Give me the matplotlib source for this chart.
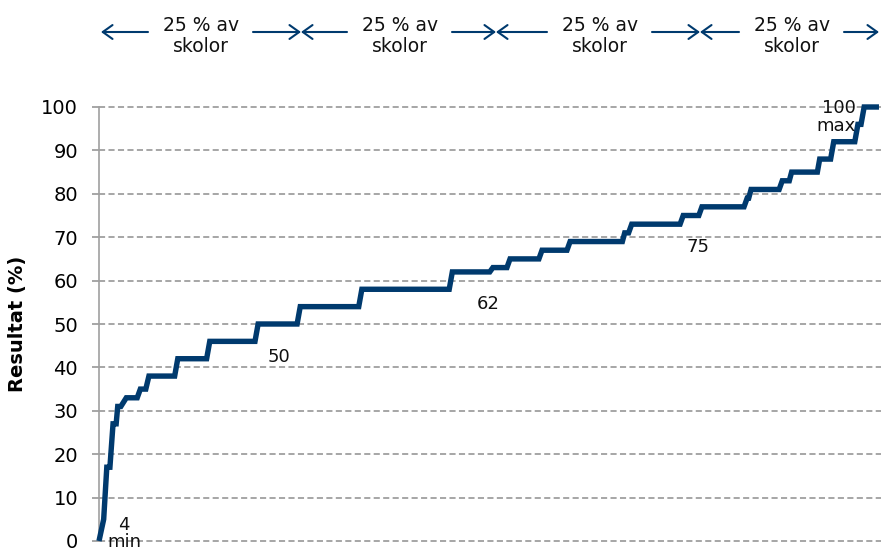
import matplotlib
matplotlib.use("Agg")
import matplotlib.pyplot as plt

# ---- data: share of schools (%) vs result (%) ----
school_pct = [0.0, 0.6, 1.0, 1.4, 1.8, 2.2, 2.4, 2.8, 3.5, 4.9, 5.3, 6.0, 6.4, 9.7,
              10.1, 13.8, 14.2, 20.0, 20.4, 25.4, 25.8, 33.3, 33.7, 44.9, 45.3, 50.1,
              50.5, 52.3, 52.7, 56.4, 56.8, 60.0, 60.4, 67.1, 67.4, 67.9, 68.3, 74.5,
              74.9, 76.9, 77.3, 82.7, 83.1, 83.3, 83.6, 87.2, 87.6, 88.5, 88.8, 92.1,
              92.4, 93.8, 94.2, 96.9, 97.3, 97.7, 98.1, 100.0]
result = [0, 5, 17, 17, 27, 27, 31, 31, 33, 33, 35, 35, 38, 38,
          42, 42, 46, 46, 50, 50, 54, 54, 58, 58, 62, 62,
          63, 63, 65, 65, 67, 67, 69, 69, 71, 71, 73, 73,
          75, 75, 77, 77, 79, 79, 81, 81, 83, 83, 85, 85,
          88, 88, 92, 92, 96, 96, 100, 100]

yticks = [0, 10, 20, 30, 40, 50, 60, 70, 80, 90, 100]
ylabel = "Resultat (%)"
segment_label = "25 % av\nskolor"
annotations = [("4\nmin", 3.2, 1.8, "center"),
               ("50", 23.1, 42.4, "center"),
               ("62", 49.9, 54.6, "center"),
               ("75", 76.8, 67.7, "center"),
               ("100\nmax", 97.0, 97.7, "right")]

NAVY = "#003A6E"
GRID = "#8E8E8E"

W, H = 881, 548
fig = plt.figure(figsize=(W / 100, H / 100), dpi=100)
ax = fig.add_axes([99 / W, 1 - 541 / H, 782 / W, 434 / H])

ax.plot(school_pct, result, color=NAVY, lw=3.9, clip_on=False,
        solid_joinstyle="miter", solid_capstyle="butt", zorder=3)

ax.set_xlim(0, 100.26)
ax.set_ylim(0, 100)
ax.set_yticks(yticks)
ax.set_yticklabels([str(t) for t in yticks], fontsize=14, family="DejaVu Sans")
ax.set_xticks([])
for t in yticks:
    ax.axhline(t, color=GRID, lw=1.1, ls=(0, (4, 2.2)), zorder=1, clip_on=False)
ax.tick_params(axis="y", length=5, width=1.1, color=GRID, pad=10, direction="out")
for s in ["top", "right", "bottom"]:
    ax.spines[s].set_visible(False)
ax.spines["left"].set_color("#A0A0A0")
ax.spines["left"].set_linewidth(1.2)

ax.set_ylabel(ylabel, fontsize=14, fontweight="bold", family="DejaVu Sans", labelpad=10)

for txt, x, y, ha in annotations:
    ax.text(x, y, txt, fontsize=13, ha=ha, va="center", multialignment=ha,
            family="DejaVu Sans", color="#111111", zorder=4, linespacing=0.95)

# ---- top segment arrows (figure pixel coordinates) ----
def fx(px):
    return px / W

def fy(py):
    return 1 - py / H

bounds = [101, 301, 496, 700, 879]
centers = [201, 400, 600, 792]
ay = 32
for i, c in enumerate(centers):
    a, b = bounds[i], bounds[i + 1]
    fig.text(fx(c), fy(36), segment_label, ha="center", va="center",
             fontsize=13.5, family="DejaVu Sans", color="#111111", linespacing=1.15)
    for start, end in [(c - 53, a), (c + 52, b)]:
        fig.add_artist(matplotlib.patches.FancyArrowPatch(
            (fx(start), fy(ay)), (fx(end), fy(ay)), transform=fig.transFigure,
            arrowstyle="->,head_length=7,head_width=5", color=NAVY, lw=1.5,
            shrinkA=0, shrinkB=0, mutation_scale=1))

fig.savefig("out.png", dpi=100)
